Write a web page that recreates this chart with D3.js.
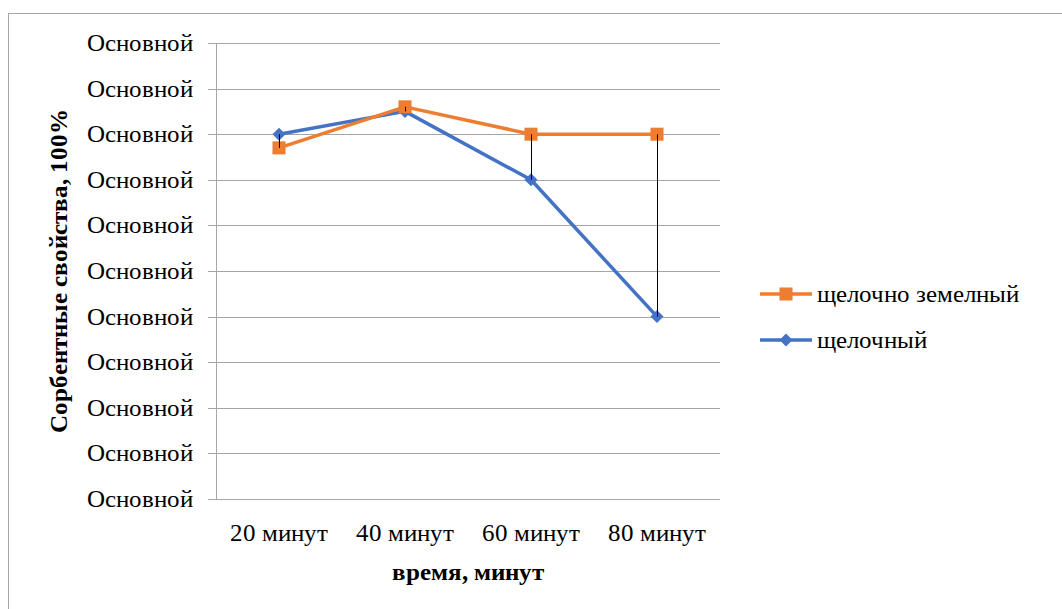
<!DOCTYPE html>
<html>
<head>
<meta charset="utf-8">
<script src="https://cdn.jsdelivr.net/npm/d3@7"></script>
<style>
  @font-face { font-family: "ChartSerif"; src: local("Liberation Serif"), local("LiberationSerif"), local("Times New Roman"); font-weight: normal; }
  @font-face { font-family: "ChartSerif"; src: local("Liberation Serif Bold"), local("LiberationSerif-Bold"), local("Times New Roman Bold"); font-weight: bold; }
  body { margin: 0; font-family: "ChartSerif", "Liberation Serif", serif; }
  svg text { font-family: "ChartSerif", "Liberation Serif", serif !important; }
</style>
</head>
<body>
<script>
// data (y axis labels are all "Основной" in the original)
var categories = ["20 минут", "40 минут", "60 минут", "80 минут"];
var seriesNames = ["щелочно земелный", "щелочный"];
var valuesEarth = [0.77, 0.86, 0.80, 0.80];
var valuesAlkali = [0.80, 0.85, 0.70, 0.40];
var yTicks = [0, 0.1, 0.2, 0.3, 0.4, 0.5, 0.6, 0.7, 0.8, 0.9, 1.0];
var yTickLabel = "Основной";
var colors = ["#ED7D31", "#4472C4"];

var W = 1062, H = 609;
var margin = {left: 216, right: 342, top: 43, bottom: 110};
var fontSize = "25px";

var svg = d3.select("body").append("svg")
  .attr("width", W).attr("height", H);

// chart frame
svg.append("rect")
  .attr("x", 8.5).attr("y", 13.5)
  .attr("width", W + 10).attr("height", H + 10)
  .attr("fill", "none").attr("stroke", "#a6a6a6").attr("stroke-width", 1);

var x = d3.scaleBand()
  .domain(categories)
  .range([margin.left, W - margin.right]);

var y = d3.scaleLinear()
  .domain([0, 1])
  .range([H - margin.bottom, margin.top]);

// gridlines
svg.append("g").selectAll("line")
  .data(yTicks)
  .join("line")
    .attr("x1", margin.left - 8).attr("x2", W - margin.right)
    .attr("y1", function(d) { return Math.round(y(d)) + 0.5; })
    .attr("y2", function(d) { return Math.round(y(d)) + 0.5; })
    .attr("stroke", "#a6a6a6").attr("stroke-width", 1);

// y axis line
svg.append("line")
  .attr("x1", margin.left + 0.5).attr("x2", margin.left + 0.5)
  .attr("y1", y(1)).attr("y2", y(0))
  .attr("stroke", "#a6a6a6");

// y tick labels
svg.append("g").selectAll("text")
  .data(yTicks)
  .join("text")
    .attr("x", 193)
    .attr("y", function(d) { return y(d) + 8; })
    .attr("text-anchor", "end")
    .attr("font-size", fontSize)
    .text(yTickLabel);

// x category labels
svg.append("g").selectAll("text")
  .data(categories)
  .join("text")
    .attr("x", function(d) { return x(d) + x.bandwidth() / 2; })
    .attr("y", 541)
    .attr("text-anchor", "middle")
    .attr("font-size", fontSize)
    .text(function(d) { return d; });

// axis titles
svg.append("text")
  .attr("x", (margin.left + W - margin.right) / 2)
  .attr("y", 580)
  .attr("text-anchor", "middle")
  .attr("font-size", fontSize)
  .attr("font-weight", "bold")
  .text("время, минут");

svg.append("text")
  .attr("transform", "translate(67," + ((y(0) + y(1)) / 2) + ") rotate(-90)")
  .attr("text-anchor", "middle")
  .attr("font-size", fontSize)
  .attr("font-weight", "bold")
  .text("Сорбентные свойства, 100%");

var cx = function(d, i) { return x(categories[i]) + x.bandwidth() / 2; };
var line = d3.line()
  .x(function(d, i) { return cx(d, i); })
  .y(function(d) { return y(d); });

var allSeries = [valuesEarth, valuesAlkali];
var square = d3.symbol().type(d3.symbolSquare).size(170);
var diamond = d3.symbol().type(d3.symbolSquare).size(85);

// draw blue first, then orange on top
[1, 0].forEach(function(s) {
  var vals = allSeries[s];
  svg.append("path")
    .datum(vals)
    .attr("d", line)
    .attr("fill", "none")
    .attr("stroke", colors[s])
    .attr("stroke-width", 3.5)
    .attr("stroke-linejoin", "round");

  svg.append("g").selectAll("path")
    .data(vals)
    .join("path")
      .attr("d", s == 0 ? square : diamond)
      .attr("transform", function(d, i) {
        return "translate(" + cx(d, i) + "," + y(d) + ")" + (s == 1 ? " rotate(45)" : "");
      })
      .attr("fill", colors[s]);
});

// high-low lines between the two series
svg.append("g").selectAll("line")
  .data(categories)
  .join("line")
    .attr("x1", function(d, i) { return Math.round(cx(null, i)) + 0.5; })
    .attr("x2", function(d, i) { return Math.round(cx(null, i)) + 0.5; })
    .attr("y1", function(d, i) { return y(valuesEarth[i]); })
    .attr("y2", function(d, i) { return y(valuesAlkali[i]); })
    .attr("stroke", "#000").attr("stroke-width", 1);

// legend
var legend = svg.append("g");
seriesNames.forEach(function(name, s) {
  var ly = 294 + s * 46;
  legend.append("line")
    .attr("x1", 760).attr("x2", 812)
    .attr("y1", ly).attr("y2", ly)
    .attr("stroke", colors[s]).attr("stroke-width", 3.5);
  legend.append("path")
    .attr("d", s == 0 ? square : diamond)
    .attr("transform", "translate(786," + ly + ")" + (s == 1 ? " rotate(45)" : ""))
    .attr("fill", colors[s]);
  legend.append("text")
    .attr("x", 817).attr("y", ly + 8)
    .attr("font-size", fontSize)
    .text(name);
});
</script>
</body>
</html>
